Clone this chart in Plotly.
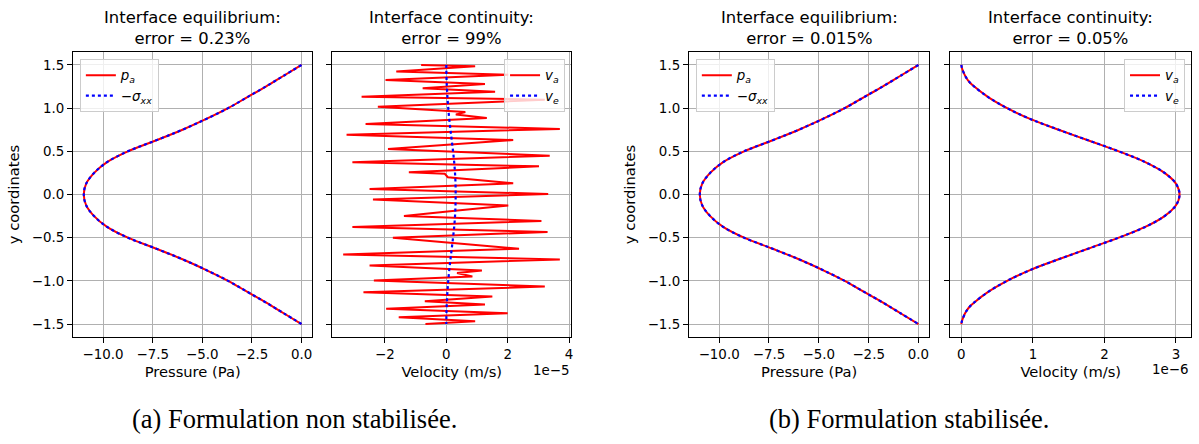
import plotly.graph_objects as go

# ---------------- data ----------------
# Pressure profile along the interface (Pa)
y_p = [1.5, 1.375, 1.25, 1.125, 1.0, 0.875, 0.75, 0.625, 0.5, 0.375, 0.25, 0.125, 0.0,
       -0.125, -0.25, -0.375, -0.5, -0.625, -0.75, -0.875, -1.0, -1.125, -1.25, -1.375, -1.5]
p_a = [0.0, -0.9, -1.8, -2.75, -3.7, -4.8, -6.0, -7.35, -8.75, -9.8, -10.45, -10.85, -10.97,
       -10.85, -10.45, -9.8, -8.75, -7.35, -6.0, -4.8, -3.7, -2.75, -1.8, -0.9, 0.0]
neg_sigma_xx = [0.0, -0.9, -1.8, -2.75, -3.7, -4.8, -6.0, -7.35, -8.75, -9.8, -10.45, -10.85, -10.97,
                -10.85, -10.45, -9.8, -8.75, -7.35, -6.0, -4.8, -3.7, -2.75, -1.8, -0.9, 0.0]

# Velocity profile (units of 1e-6 m/s)
y_v = [1.5, 1.475, 1.45, 1.4, 1.35, 1.3, 1.25, 1.125, 1.0, 0.875, 0.75, 0.625, 0.5, 0.375, 0.25, 0.125, 0.0,
       -0.125, -0.25, -0.375, -0.5, -0.625, -0.75, -0.875, -1.0, -1.125, -1.25, -1.3, -1.35, -1.4, -1.45,
       -1.475, -1.5]
v_e = [0.0, 0.005, 0.014, 0.038, 0.07, 0.115, 0.18, 0.38, 0.64, 0.96, 1.36, 1.78, 2.2, 2.57, 2.84, 3.0, 3.05,
       3.0, 2.84, 2.57, 2.2, 1.78, 1.36, 0.96, 0.64, 0.38, 0.18, 0.115, 0.07, 0.038, 0.014, 0.005, 0.0]
v_a_stab = [0.0, 0.005, 0.014, 0.038, 0.07, 0.115, 0.18, 0.38, 0.64, 0.96, 1.36, 1.78, 2.2, 2.57, 2.84, 3.0, 3.05,
            3.0, 2.84, 2.57, 2.2, 1.78, 1.36, 0.96, 0.64, 0.38, 0.18, 0.115, 0.07, 0.038, 0.014, 0.005, 0.0]

# Non-stabilised air velocity (units of 1e-5 m/s), oscillating profile
va_unstab_x = [-0.82, 0.94, -1.63, 2.02, -1.98, 1.26, -0.77, 1.59, -2.76, 3.21, -2.23, 0.0, 0.62, 0.31,
               1.32, -2.63, 3.70, -3.25, 2.18, -1.90, 3.37, -3.06, 3.02, -1.22, -0.05, 0.05, 2.18, -2.50,
               3.32, -2.39, 2.02, 0.20, -1.38, 3.10, -3.06, 3.30, -1.74, 2.37, -3.36, 3.70, -2.50, 1.16,
               0.35, 0.85, -2.36, 3.21, -2.70, 1.50, -0.70, 1.26, -1.96, 2.00, -1.55, 0.94, -0.68]
va_unstab_y = [1.50, 1.485, 1.423, 1.388, 1.326, 1.28, 1.23, 1.19, 1.133, 1.098, 1.017, 0.975, 0.955, 0.925,
               0.886, 0.817, 0.759, 0.693, 0.631, 0.527, 0.450, 0.373, 0.326, 0.257, 0.24, 0.20, 0.129, 0.064,
               0.006, -0.058, -0.127, -0.19, -0.25, -0.306, -0.376, -0.434, -0.50, -0.628, -0.694, -0.752, -0.822, -0.88,
               -0.91, -0.95, -0.996, -1.066, -1.132, -1.182, -1.236, -1.275, -1.322, -1.376, -1.422, -1.469, -1.50]

titles = ["Interface equilibrium:<br>error = 0.23%", "Interface continuity:<br>error = 99%",
          "Interface equilibrium:<br>error = 0.015%", "Interface continuity:<br>error = 0.05%"]
captions = ["(a) Formulation non stabilisée.", "(b) Formulation stabilisée."]

# ---------------- layout helpers ----------------
W, H = 1199, 444
FONT = "DejaVu Sans"
TICK_SIZE = 13.4
LABEL_SIZE = 14.7
TITLE_SIZE = 16.4
panels_px = [(73, 313), (333, 572), (690, 931), (952, 1193)]
top_px, bot_px = 52, 337

def px_x(p):
    return p / W

def px_y(p):
    return (H - p) / H

fig = go.Figure()

RED = dict(color="#ff0000", width=2)
BLUE = dict(color="#0000ff", width=2.2, dash="dot")

# panel 1
fig.add_trace(go.Scatter(x=p_a, y=y_p, mode="lines", line=dict(**RED, shape="spline"),
                         name="<i>p</i><sub><i>a</i></sub>", xaxis="x", yaxis="y", legend="legend"))
fig.add_trace(go.Scatter(x=neg_sigma_xx, y=y_p, mode="lines", line=dict(**BLUE, shape="spline"),
                         name="−<i>σ</i><sub><i>xx</i></sub>", xaxis="x", yaxis="y", legend="legend"))
# panel 2
fig.add_trace(go.Scatter(x=va_unstab_x, y=va_unstab_y, mode="lines", line=RED,
                         name="<i>v</i><sub><i>a</i></sub>", xaxis="x2", yaxis="y2", legend="legend2"))
fig.add_trace(go.Scatter(x=[v / 10 for v in v_e], y=y_v, mode="lines", line=dict(**BLUE, shape="spline"),
                         name="<i>v</i><sub><i>e</i></sub>", xaxis="x2", yaxis="y2", legend="legend2"))
# panel 3
fig.add_trace(go.Scatter(x=p_a, y=y_p, mode="lines", line=dict(**RED, shape="spline"),
                         name="<i>p</i><sub><i>a</i></sub>", xaxis="x3", yaxis="y3", legend="legend3"))
fig.add_trace(go.Scatter(x=neg_sigma_xx, y=y_p, mode="lines", line=dict(**BLUE, shape="spline"),
                         name="−<i>σ</i><sub><i>xx</i></sub>", xaxis="x3", yaxis="y3", legend="legend3"))
# panel 4
fig.add_trace(go.Scatter(x=v_a_stab, y=y_v, mode="lines", line=dict(**RED, shape="spline"),
                         name="<i>v</i><sub><i>a</i></sub>", xaxis="x4", yaxis="y4", legend="legend4"))
fig.add_trace(go.Scatter(x=v_e, y=y_v, mode="lines", line=dict(**BLUE, shape="spline"),
                         name="<i>v</i><sub><i>e</i></sub>", xaxis="x4", yaxis="y4", legend="legend4"))

axis_common = dict(showline=True, mirror=True, linecolor="black", linewidth=1,
                   showgrid=True, gridcolor="#b0b0b0", gridwidth=0.8, zeroline=False,
                   ticks="outside", ticklen=5, tickwidth=1, tickcolor="black",
                   tickfont=dict(family=FONT, size=TICK_SIZE, color="black"))

x_ranges = [[-11.52, 0.55], [-3.71, 4.065], [-11.52, 0.55], [-0.153, 3.21]]
x_ticks = [([-10, -7.5, -5, -2.5, 0], ["−10.0", "−7.5", "−5.0", "−2.5", "0.0"]),
           ([-2, 0, 2, 4], ["−2", "0", "2", "4"]),
           ([-10, -7.5, -5, -2.5, 0], ["−10.0", "−7.5", "−5.0", "−2.5", "0.0"]),
           ([0, 1, 2, 3], ["0", "1", "2", "3"])]
x_titles = ["Pressure (Pa)", "Velocity (m/s)", "Pressure (Pa)", "Velocity (m/s)"]
y_tickvals = [-1.5, -1.0, -0.5, 0.0, 0.5, 1.0, 1.5]
y_ticktext = ["−1.5", "−1.0", "−0.5", "0.0", "0.5", "1.0", "1.5"]

layout = dict(width=W, height=H, margin=dict(l=0, r=0, t=0, b=0),
              paper_bgcolor="white", plot_bgcolor="white",
              font=dict(family=FONT, size=TICK_SIZE, color="black"))

for i in range(4):
    sfx = "" if i == 0 else str(i + 1)
    l, r = panels_px[i]
    layout["xaxis" + sfx] = dict(axis_common, domain=[px_x(l), px_x(r)], range=x_ranges[i],
                                 tickvals=x_ticks[i][0], ticktext=x_ticks[i][1],
                                 anchor="y" + sfx, ticklabelstandoff=0,
                                 title=dict(text=x_titles[i],
                                            font=dict(family=FONT, size=LABEL_SIZE, color="black"),
                                            standoff=5))
    ydict = dict(axis_common, domain=[px_y(bot_px), px_y(top_px)], range=[-1.65, 1.65],
                 tickvals=y_tickvals, ticktext=y_ticktext, anchor="x" + sfx)
    if i in (0, 2):
        ydict["title"] = dict(text="y coordinates", font=dict(family=FONT, size=LABEL_SIZE, color="black"),
                              standoff=8)
    else:
        ydict["showticklabels"] = False
    layout["yaxis" + sfx] = ydict

legend_common = dict(bgcolor="rgba(255,255,255,0.8)", bordercolor="#cccccc", borderwidth=1,
                     font=dict(family=FONT, size=TICK_SIZE, color="black"), yanchor="top", itemwidth=30,
                     tracegroupgap=0)
layout["legend"] = dict(legend_common, x=px_x(80), y=px_y(59), xanchor="left")
layout["legend2"] = dict(legend_common, x=px_x(566), y=px_y(59), xanchor="right")
layout["legend3"] = dict(legend_common, x=px_x(697), y=px_y(59), xanchor="left")
layout["legend4"] = dict(legend_common, x=px_x(1187), y=px_y(59), xanchor="right")

annotations = []
for i in range(4):
    l, r = panels_px[i]
    annotations.append(dict(text=titles[i], x=px_x((l + r) / 2), y=px_y(28), xref="paper", yref="paper",
                            xanchor="center", yanchor="middle", showarrow=False,
                            font=dict(family=FONT, size=TITLE_SIZE, color="black")))
# offset texts
annotations.append(dict(text="1e−5", x=px_x(573), y=px_y(370), xref="paper", yref="paper",
                        xanchor="right", yanchor="middle", showarrow=False,
                        font=dict(family=FONT, size=TICK_SIZE, color="black")))
annotations.append(dict(text="1e−6", x=px_x(1193), y=px_y(369), xref="paper", yref="paper",
                        xanchor="right", yanchor="middle", showarrow=False,
                        font=dict(family=FONT, size=TICK_SIZE, color="black")))
# captions
annotations.append(dict(text=captions[0], x=px_x(295), y=px_y(419), xref="paper", yref="paper",
                        xanchor="center", yanchor="middle", showarrow=False,
                        font=dict(family="Liberation Serif", size=26.5, color="black")))
annotations.append(dict(text=captions[1], x=px_x(911), y=px_y(419), xref="paper", yref="paper",
                        xanchor="center", yanchor="middle", showarrow=False,
                        font=dict(family="Liberation Serif", size=26.5, color="black")))
layout["annotations"] = annotations

fig.update_layout(**layout)
fig.write_html("out.html", config={"displayModeBar": False},
               post_script="document.body.style.margin='0px';document.body.style.overflow='hidden';")
